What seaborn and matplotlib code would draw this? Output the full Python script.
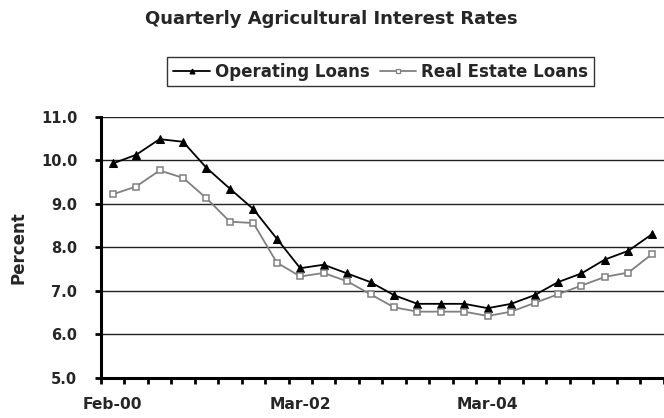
import matplotlib
matplotlib.use("Agg")
import matplotlib.pyplot as plt
import seaborn as sns
import pandas as pd
import numpy as np
from matplotlib.ticker import FixedLocator

quarters = ["Feb-00", "May-00", "Aug-00", "Nov-00", "Feb-01", "May-01", "Aug-01", "Nov-01",
            "Mar-02", "Jun-02", "Sep-02", "Dec-02", "Mar-03", "Jun-03", "Sep-03", "Dec-03",
            "Mar-04", "Jun-04", "Sep-04", "Dec-04", "Mar-05", "Jun-05", "Sep-05", "Dec-05"]
operating = [9.93, 10.13, 10.49, 10.43, 9.83, 9.35, 8.88, 8.2,
             7.52, 7.6, 7.4, 7.2, 6.9, 6.7, 6.7, 6.7,
             6.6, 6.7, 6.9, 7.2, 7.4, 7.72, 7.92, 8.3]
real_estate = [9.22, 9.4, 9.77, 9.6, 9.13, 8.59, 8.56, 7.65,
               7.33, 7.41, 7.22, 6.92, 6.62, 6.52, 6.52, 6.52,
               6.42, 6.52, 6.72, 6.92, 7.12, 7.32, 7.42, 7.84]
labeled = ["Feb-00", "Mar-02", "Mar-04"]
yticks = [5.0, 6.0, 7.0, 8.0, 9.0, 10.0, 11.0]

sns.set_theme(style="white")
plt.rcParams['font.family'] = ['DejaVu Sans']
plt.rcParams['font.weight'] = 'bold'

df = pd.DataFrame({"idx": np.arange(len(quarters)), "quarter": quarters,
                   "Operating Loans": operating, "Real Estate Loans": real_estate})

fig = plt.figure(figsize=(6.64, 4.18), dpi=100)
ax = fig.add_axes([101/664, 1 - 377.7/418, 1 - 101/664 - 0.5/664, (377.7 - 117)/418])

sns.lineplot(data=df, x="idx", y="Operating Loans", ax=ax, color="black", lw=1.3,
             marker="^", markersize=6, markerfacecolor="black", markeredgecolor="black",
             label="Operating Loans")
sns.lineplot(data=df, x="idx", y="Real Estate Loans", ax=ax, color="#808080", lw=1.3,
             marker="s", markersize=4, markerfacecolor="white", markeredgecolor="#808080",
             markeredgewidth=1.1, label="Real Estate Loans")

ax.set_xlim(-0.5, len(quarters) - 0.5)
ax.set_ylim(5.0, 11.0)
ax.set_yticks(yticks)
ax.set_yticklabels([f"{v:.1f}" for v in yticks], fontsize=10.5, fontweight='bold')

label_pos = [quarters.index(q) for q in labeled]
ax.set_xticks(label_pos)
ax.set_xticklabels(labeled, fontsize=11.2, fontweight='bold')
ax.tick_params(axis='x', which='major', length=0, pad=14)
ax.xaxis.set_minor_locator(FixedLocator(np.arange(-0.5, len(quarters), 1.0)))
ax.tick_params(axis='x', which='minor', length=4, width=2, color='black', direction='out', bottom=True)
ax.tick_params(axis='y', which='major', length=4, width=2, color='black', direction='out', left=True, pad=13)

ax.grid(axis='y', color='#222222', lw=1.0)
ax.set_axisbelow(True)
for s in ['top', 'right']:
    ax.spines[s].set_visible(False)
for s in ['left', 'bottom']:
    ax.spines[s].set_color('black')
    ax.spines[s].set_linewidth(2.2)

ax.set_xlabel("")
ax.set_ylabel("Percent", fontsize=12, fontweight='bold', labelpad=10)

fig.text(331/664, 1 - 19/418, "Quarterly Agricultural Interest Rates", ha='center', va='center',
         fontsize=13, fontweight='bold')

leg = ax.legend(loc='center', bbox_to_anchor=((381 - 101) / 563, (418 - 71.5 - 40.3) / 260.7),
                ncol=2, frameon=True, fancybox=False, fontsize=12, handlelength=2.2,
                handletextpad=0.3, columnspacing=0.6, borderpad=0.35, edgecolor='black')
leg.get_frame().set_linewidth(1.0)
for t in leg.get_texts():
    t.set_fontweight('bold')
for h, ms in zip(leg.legend_handles, [3.5, 3.0]):
    h.set_markersize(ms)
    h.set_markeredgewidth(0.9)

fig.savefig("out.png", dpi=100)
